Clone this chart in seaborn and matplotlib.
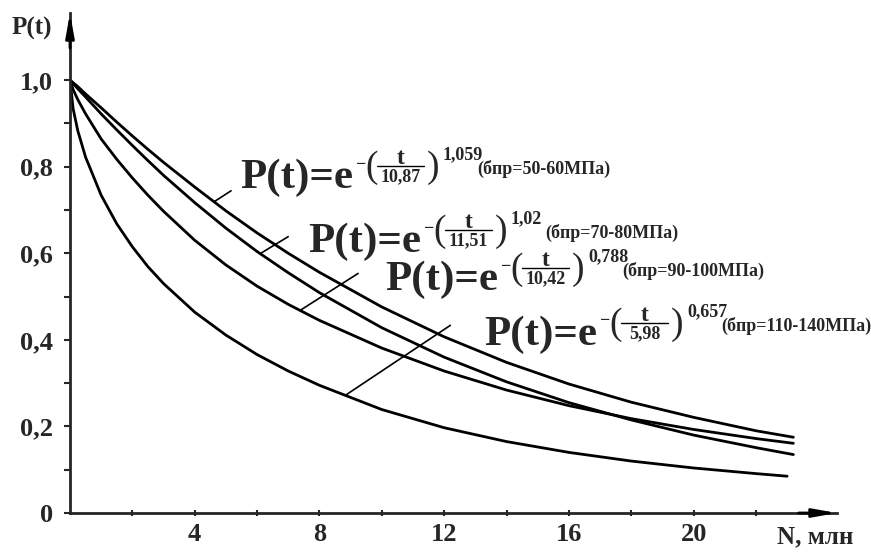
import numpy as np
import pandas as pd
import seaborn as sns
import matplotlib
matplotlib.use("Agg")
import matplotlib.pyplot as plt
from matplotlib.lines import Line2D
from matplotlib.transforms import IdentityTransform

# Operating time, million cycles
t_upper = [0, 0.1, 0.25, 0.5, 1, 1.5, 2, 2.5, 3, 4, 5, 6, 7, 8, 10, 12, 14, 16, 18, 20, 22, 23.2]
t_lower = [0, 0.1, 0.25, 0.5, 1, 1.5, 2, 2.5, 3, 4, 5, 6, 7, 8, 10, 12, 14, 16, 18, 20, 22, 23.0]

# Probability of failure-free operation P(t) for each strength group
p_50_60 = [1.0, 0.994, 0.985, 0.968, 0.936, 0.903, 0.871, 0.840, 0.810, 0.753, 0.698,
           0.647, 0.600, 0.556, 0.476, 0.407, 0.348, 0.298, 0.256, 0.221, 0.190, 0.175]
p_70_80 = [1.0, 0.992, 0.980, 0.961, 0.922, 0.885, 0.849, 0.814, 0.780, 0.717, 0.658,
           0.604, 0.555, 0.509, 0.428, 0.360, 0.303, 0.255, 0.215, 0.180, 0.151, 0.135]
p_90_100 = [1.0, 0.978, 0.955, 0.922, 0.864, 0.817, 0.774, 0.734, 0.697, 0.630, 0.573,
            0.524, 0.482, 0.445, 0.381, 0.328, 0.284, 0.248, 0.218, 0.193, 0.172, 0.161]
p_110_140 = [1.0, 0.934, 0.883, 0.822, 0.734, 0.668, 0.615, 0.569, 0.530, 0.464, 0.411,
             0.366, 0.328, 0.295, 0.239, 0.197, 0.165, 0.140, 0.120, 0.104, 0.091, 0.085]

# Weibull parameters and strength ranges printed next to each curve
scale_labels = ["10,87", "11,51", "10,42", "5,98"]
shape_labels = ["1,059", "1,02", "0,788", "0,657"]
stress_labels = ["(бпр=50-60МПа)", "(бпр=70-80МПа)", "(бпр=90-100МПа)", "(бпр=110-140МПа)"]

y_ticks = [0, 0.2, 0.4, 0.6, 0.8, 1.0]
y_tick_labels = ["0", "0,2", "0,4", "0,6", "0,8", "1,0"]
x_ticks = [4, 8, 12, 16, 20]
x_tick_labels = ["4", "8", "12", "16", "20"]

series = [("50-60", t_upper, p_50_60), ("70-80", t_upper, p_70_80),
          ("90-100", t_upper, p_90_100), ("110-140", t_lower, p_110_140)]
df = pd.concat([pd.DataFrame({"N": tt, "P": pp, "group": name}) for name, tt, pp in series],
               ignore_index=True)

sns.set_style("ticks")
serif = "Liberation Serif"
plt.rcParams["font.family"] = [serif, "DejaVu Serif"]

W, H = 871, 552
fig = plt.figure(figsize=(W / 100, H / 100), dpi=100)
ax = fig.add_axes([70 / W, (H - 513) / H, (837 - 70) / W, (513 - 13) / H])

sns.lineplot(data=df, x="N", y="P", units="group", estimator=None, color="black",
             lw=2.0, ax=ax, legend=False, sort=False)

ax.set_xlim(0, 24.6)
ax.set_ylim(0, 1.155)
ax.set_xlabel("")
ax.set_ylabel("")
for s in ("top", "right"):
    ax.spines[s].set_visible(False)
for s in ("left", "bottom"):
    ax.spines[s].set_linewidth(2.0)

ax.set_yticks(y_ticks)
ax.set_yticklabels(y_tick_labels)
ax.set_yticks(np.arange(0.1, 1.0, 0.2), minor=True)
ax.set_xticks(x_ticks)
ax.set_xticklabels(x_tick_labels)
ax.set_xticks([2, 6, 10, 14, 18, 22], minor=True)
ax.tick_params(axis="y", which="both", direction="out", length=4, width=1.5, pad=8,
               labelsize=19)
ax.tick_params(axis="x", which="both", direction="inout", length=5, width=1.5, pad=5,
               labelsize=19)
for lab in ax.get_xticklabels() + ax.get_yticklabels():
    lab.set_fontweight("bold")
    lab.set_family(serif)

# axis arrows
arrow = dict(arrowstyle="-|>,head_length=1.4,head_width=0.25", color="black", lw=2.0,
             shrinkA=0, shrinkB=0)
ax.annotate("", xy=(1.0, 0), xytext=(0.95, 0), xycoords="axes fraction", arrowprops=arrow)
ax.annotate("", xy=(0, 1.0), xytext=(0, 0.93), xycoords="axes fraction", arrowprops=arrow)

ident = IdentityTransform()


def ptxt(x, y, s, **kw):
    kw.setdefault("family", serif)
    fig.text(x, H - y, s, transform=ident, **kw)


ptxt(12, 28, "P(t)", size=18, weight="bold", ha="left", va="center")
ptxt(777, 537, "N, млн", size=18, weight="bold", ha="left", va="center")


def formula(x0, base, scale, shape, stress):
    ptxt(x0, base, "P(t)=e", size=31, weight="bold", ha="left", va="baseline")
    ptxt(x0 + 116, base - 24, "\u2212", size=13, weight="bold", ha="left", va="center")
    ptxt(x0 + 125, base - 20, "(", size=27, ha="left", va="center")
    bx0, bx1 = x0 + 137, x0 + 184
    cx = (bx0 + bx1) / 2
    ptxt(cx, base - 24, "t", size=17, weight="bold", ha="center", va="baseline")
    ptxt(cx, base - 20, scale, size=13, weight="bold", ha="center", va="top")
    fig.add_artist(Line2D([bx0, bx1], [H - (base - 22)] * 2, transform=ident,
                          color="black", lw=1.0))
    ptxt(x0 + 187, base - 20, ")", size=27, ha="left", va="center")
    ptxt(x0 + 203, base - 29, shape, size=13, weight="bold", ha="left", va="baseline")
    ptxt(x0 + 237, base - 14, stress, size=13, weight="bold", ha="left", va="baseline")


formula(240, 188, scale_labels[0], shape_labels[0], stress_labels[0])
formula(308, 252, scale_labels[1], shape_labels[1], stress_labels[1])
formula(385, 290, scale_labels[2], shape_labels[2], stress_labels[2])
formula(484, 345, scale_labels[3], shape_labels[3], stress_labels[3])

# leader lines from each formula to its curve
leaders = [(t_upper, p_50_60, 4.62, (17, 11)), (t_upper, p_70_80, 6.1, (28, 17)),
           (t_upper, p_90_100, 7.38, (58, 37)), (t_lower, p_110_140, 8.83, (105, 70))]
for tt, pp, tx, off in leaders:
    ax.annotate("", xy=(tx, np.interp(tx, tt, pp)), xytext=off, textcoords="offset pixels",
                arrowprops=dict(arrowstyle="-", color="black", lw=1.2, shrinkA=0, shrinkB=0))

fig.savefig("out.png", dpi=100)
